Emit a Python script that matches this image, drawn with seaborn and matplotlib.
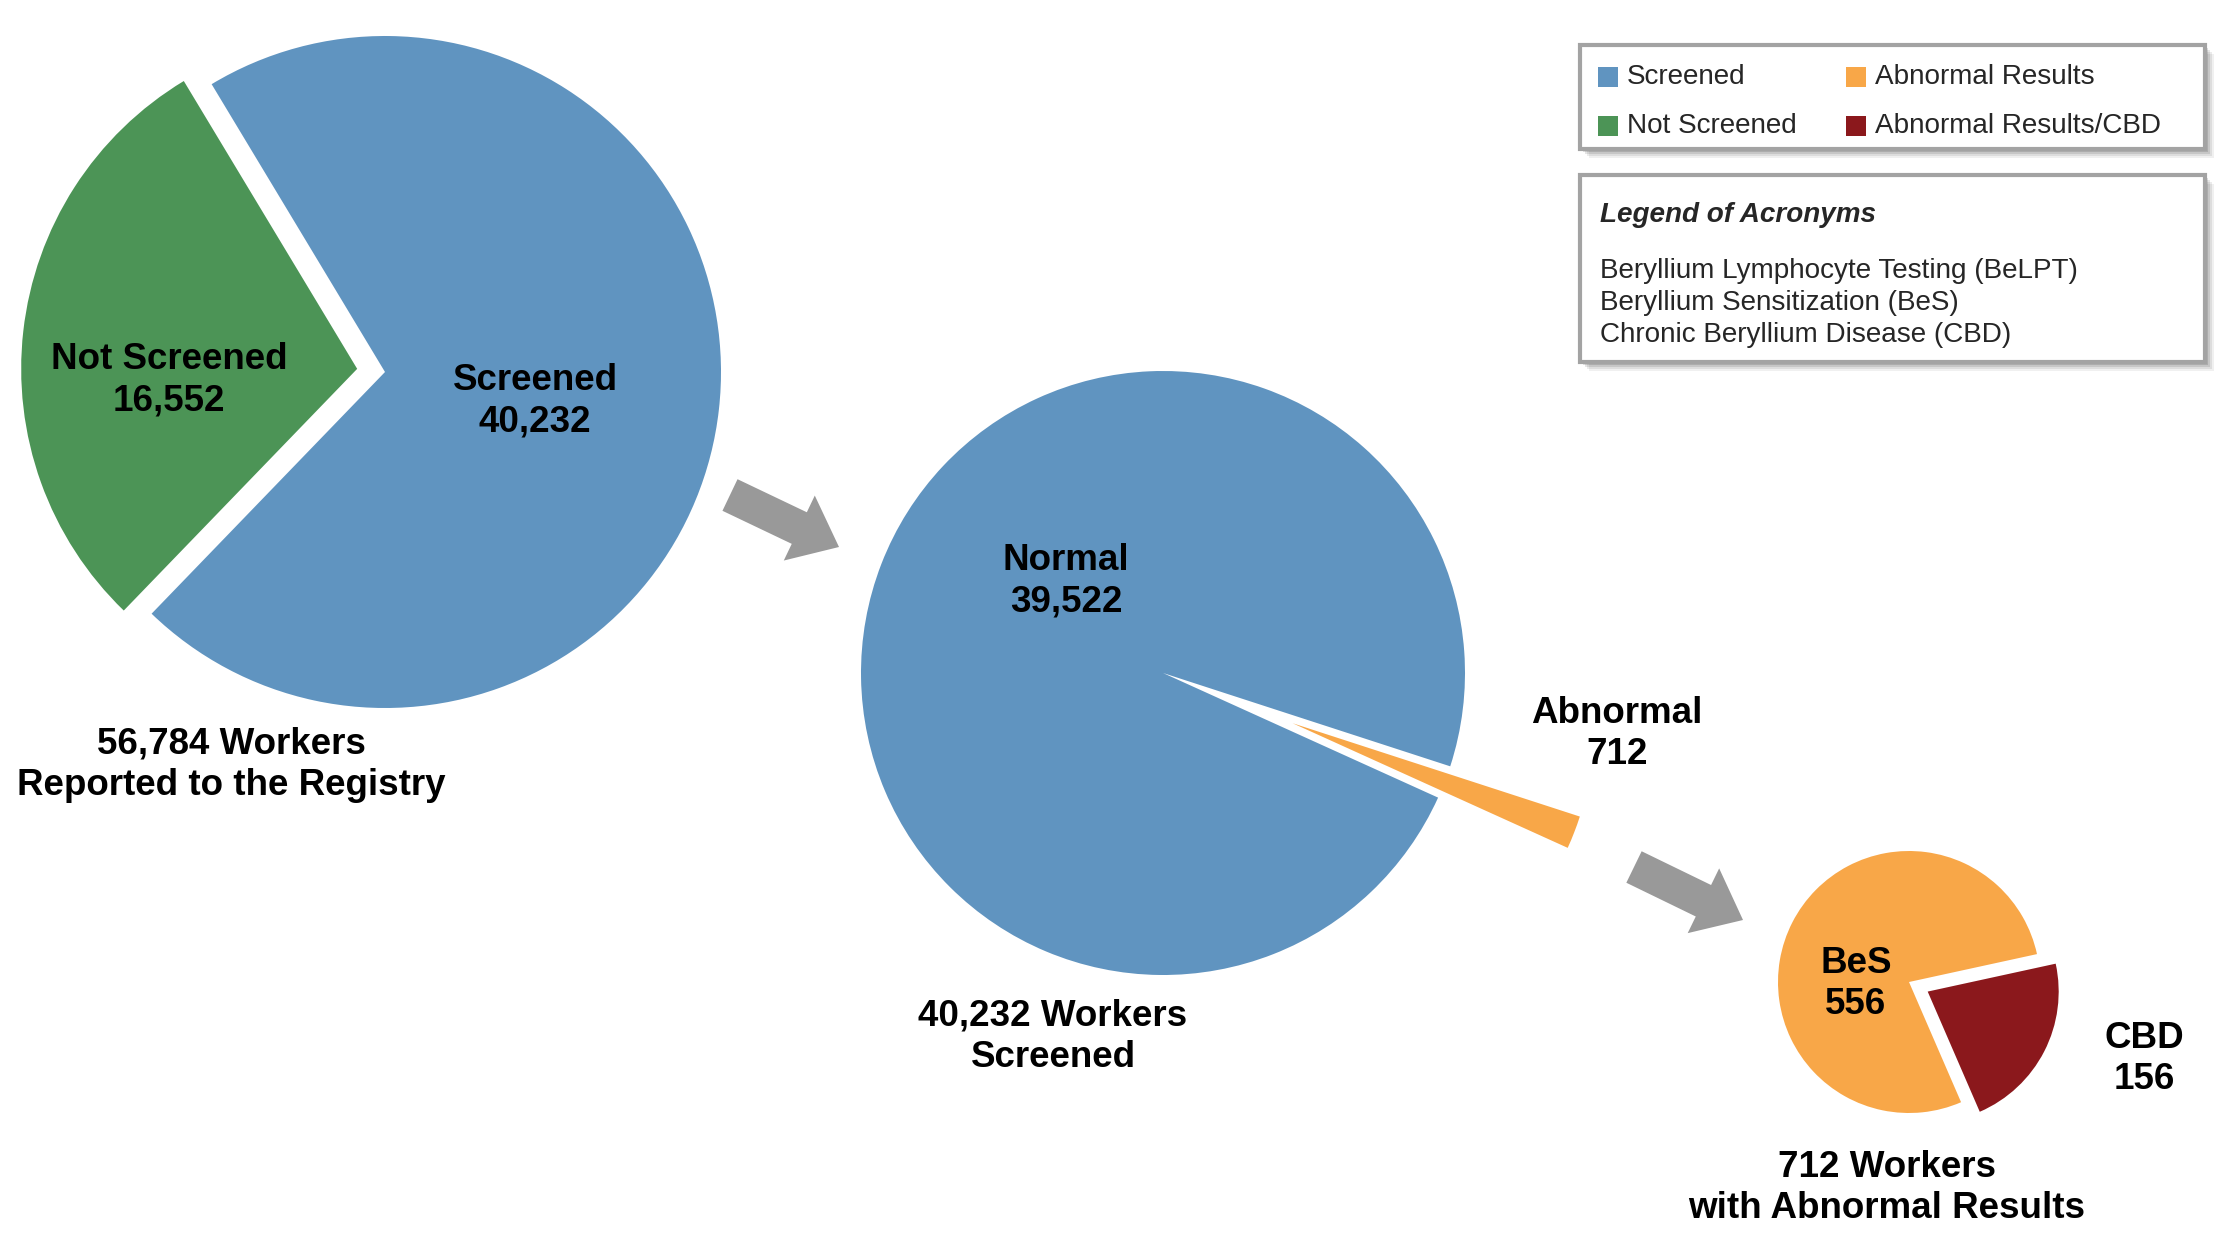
import matplotlib
matplotlib.use('Agg')
import matplotlib.pyplot as plt
import matplotlib.patches as mpatches
import seaborn as sns

# data
screen_labels = ['Screened', 'Not Screened']
screen_counts = [40232, 16552]
result_labels = ['Normal', 'Abnormal']
result_counts = [39522, 712]
abn_labels = ['BeS', 'CBD']
abn_counts = [556, 156]
legend_labels = ['Screened', 'Not Screened', 'Abnormal Results', 'Abnormal Results/CBD']
acronym_title = 'Legend of Acronyms'
acronyms = ['Beryllium Lymphocyte Testing (BeLPT)',
            'Beryllium Sensitization (BeS)',
            'Chronic Beryllium Disease (CBD)']

BLUE, GREEN, ORANGE, RED = '#6094C0', '#4C9456', '#F8A748', '#8B181C'
GRAY = '#999999'

sns.set_theme(style='white')
plt.rcParams['font.family'] = ['Liberation Sans', 'DejaVu Sans']

W, H = 2226, 1251
fig = plt.figure(figsize=(W / 100, H / 100), dpi=100)
ax = fig.add_axes([0, 0, 1, 1])


def Y(y):
    # image pixel row -> data y
    return H - y


# three pies: counts, colours, centre (px), radius, startangle, explode (px)
pies = [
    (screen_counts, [BLUE, GREEN], (385, 372), 336, 226, [0, 28]),
    (result_counts, [BLUE, ORANGE], (1163, 673), 302, -18, [0, 139]),
    (abn_counts, [ORANGE, RED], (1909, 982), 131, 12.3, [0, 21]),
]
for counts, cols, (cx, cy), r, start, expl in pies:
    ax.pie(counts, colors=cols, center=(cx, Y(cy)), radius=r,
           startangle=start, explode=expl, counterclock=True,
           wedgeprops=dict(linewidth=0), frame=True)

# labels
bold = dict(fontsize=26.5, fontweight='bold', ha='center', va='center',
            linespacing=1.25, color='black')
ax.text(169, Y(380), f"{screen_labels[1]}\n{screen_counts[1]:,}", **bold)
ax.text(535, Y(401), f"{screen_labels[0]}\n{screen_counts[0]:,}", **bold)
ax.text(231, Y(765), f"{sum(screen_counts):,} Workers\nReported to the Registry", **bold)
ax.text(1066, Y(581), f"{result_labels[0]}\n{result_counts[0]:,}", **bold)
ax.text(1617, Y(734), f"{result_labels[1]}\n{result_counts[1]:,}", **bold)
ax.text(1053, Y(1037), f"{screen_counts[0]:,} Workers\nScreened", **bold)
ax.text(1856, Y(984), f"{abn_labels[0]}\n{abn_counts[0]:,}", **bold)
ax.text(2144, Y(1059), f"{abn_labels[1]}\n{abn_counts[1]:,}", **bold)
ax.text(1887, Y(1188), f"{sum(abn_counts):,} Workers\nwith Abnormal Results", **bold)

# block arrows
for (x0, y0), (x1, y1) in [((730, 495), (839, 547)), ((1634, 867), (1743, 920))]:
    ax.add_patch(mpatches.FancyArrow(x0, Y(y0), x1 - x0, -(y1 - y0), width=35,
                                     head_width=72, head_length=44,
                                     length_includes_head=True, color=GRAY, lw=0))


def box(x0, y0, x1, y1):
    # soft shadow then framed box
    for k, a in zip(range(9, 0, -2), [0.06, 0.08, 0.10, 0.12, 0.14]):
        ax.add_patch(mpatches.Rectangle((x0 + k, Y(y1 + k)), x1 - x0, y1 - y0,
                                        facecolor='black', alpha=a, lw=0))
    ax.add_patch(mpatches.Rectangle((x0, Y(y1)), x1 - x0, y1 - y0,
                                    facecolor='white', edgecolor='#A3A3A3', lw=3))


box(1580, 45, 2205, 149)
box(1580, 175, 2205, 362)

# colour legend
leg_cols = [BLUE, GREEN, ORANGE, RED]
leg_pos = [(1598, 77), (1598, 126), (1846, 77), (1846, 126)]
for lab, col, (lx, ly) in zip(legend_labels, leg_cols, leg_pos):
    ax.add_patch(mpatches.Rectangle((lx, Y(ly + 10)), 20, 20, facecolor=col, lw=0))
    ax.text(lx + 29, Y(ly), lab, fontsize=20.1, ha='left', va='center')

ax.text(1600, Y(215), acronym_title, fontsize=20.1, fontweight='bold',
        fontstyle='italic', ha='left', va='center')
for i, line in enumerate(acronyms):
    ax.text(1600, Y(271 + 32 * i), line, fontsize=20.1, ha='left', va='center')

ax.set_xlim(0, W)
ax.set_ylim(0, H)
ax.axis('off')
fig.savefig('out.png', dpi=100)
plt.close(fig)
